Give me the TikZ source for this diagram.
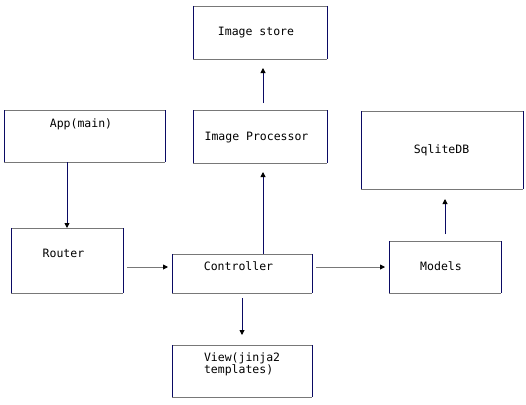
\documentclass[tikz,border=0pt]{standalone}
\usepackage{fontspec}
\setmonofont{DejaVu Sans Mono}
\usetikzlibrary{arrows.meta}

\definecolor{edgegray}{RGB}{120,120,120}
\definecolor{edgenavy}{RGB}{10,10,100}

% gray top and bottom, navy sides
\newcommand{\boxedges}[1]{%
  \draw[hline] (#1.north west) -- (#1.north east) (#1.south west) -- (#1.south east);
  \draw[vline] (#1.north west) -- (#1.south west) (#1.north east) -- (#1.south east);}

\tikzset{
  box/.style={rectangle, inner sep=0pt, outer sep=0pt},
  mono/.style={inner sep=0pt, font=\ttfamily\fontsize{11.5}{12}\selectfont},
  txt/.style={mono, text height=8.5pt, text depth=2.5pt},
  hline/.style={draw=edgegray, line width=0.9pt},
  vline/.style={draw=edgenavy, line width=0.9pt},
  harrow/.style={hline, -{Triangle[length=5pt,width=5pt,color=black]}},
  varrow/.style={vline, -{Triangle[length=5pt,width=5pt,color=black]}},
}

\begin{document}
\begin{tikzpicture}[x=1pt, y=-1pt]
      \useasboundingbox (0,0) rectangle (526,404);

      % Define boxes
      \node[box, minimum width=134pt, minimum height=53pt] (store) at (260,32.5) {};
      \node[box, minimum width=134pt, minimum height=53pt] (proc) at (260,136.5) {};
      \node[box, minimum width=161pt, minimum height=52pt] (app) at (84.5,136) {};
      \node[box, minimum width=162pt, minimum height=78pt] (sqlite) at (442,150) {};
      \node[box, minimum width=112pt, minimum height=65pt] (router) at (67,260.5) {};
      \node[box, minimum width=140pt, minimum height=39pt] (ctrl) at (242,273.5) {};
      \node[box, minimum width=112pt, minimum height=52pt] (models) at (445,267) {};
      \node[box, minimum width=140pt, minimum height=52pt] (view) at (242,371) {};

      % Draw box outlines
      \foreach \b in {store, proc, app, sqlite, router, ctrl, models, view}
        {\boxedges{\b}}

      % Label boxes
      \node[txt] (storetext) at (256,33) {Image store};
      \node[txt] (proctext) at (256.5,137) {Image Processor};
      \node[txt] (apptext) at (81,124) {App(main)};
      \node[txt] (sqlitetext) at (441.5,150.3) {SqliteDB};
      \node[txt] (routertext) at (63.5,254.7) {Router};
      \node[txt] (ctrltext) at (238.5,267) {Controller};
      \node[txt] (modelstext) at (441,267) {Models};
      \node[mono, text width=80pt, align=left] (viewtext) at (244,364.7) {View(jinja2\\templates)};

      % Draw arrows
      \draw[varrow] (app.south -| router.north) -- (router.north);
      \draw[harrow, shorten <=4pt, shorten >=4pt] ([yshift=-6.5pt]router.east) -- ([yshift=6.5pt]ctrl.west);
      \draw[harrow, shorten <=4pt, shorten >=4pt] ([yshift=6.5pt]ctrl.east) -- (models.west);
      \draw[varrow, shorten >=9pt] ([xshift=21pt]ctrl.north) -- ([xshift=3pt]proc.south);
      \draw[varrow, shorten <=7pt, shorten >=9pt] ([xshift=3pt]proc.north) -- ([xshift=3pt]store.south);
      \draw[varrow, shorten <=5pt, shorten >=10pt] (ctrl.south) -- (view.north);
      \draw[varrow, shorten <=7pt, shorten >=10pt] (models.north) -- ([xshift=3pt]sqlite.south);
\end{tikzpicture}
\end{document}
